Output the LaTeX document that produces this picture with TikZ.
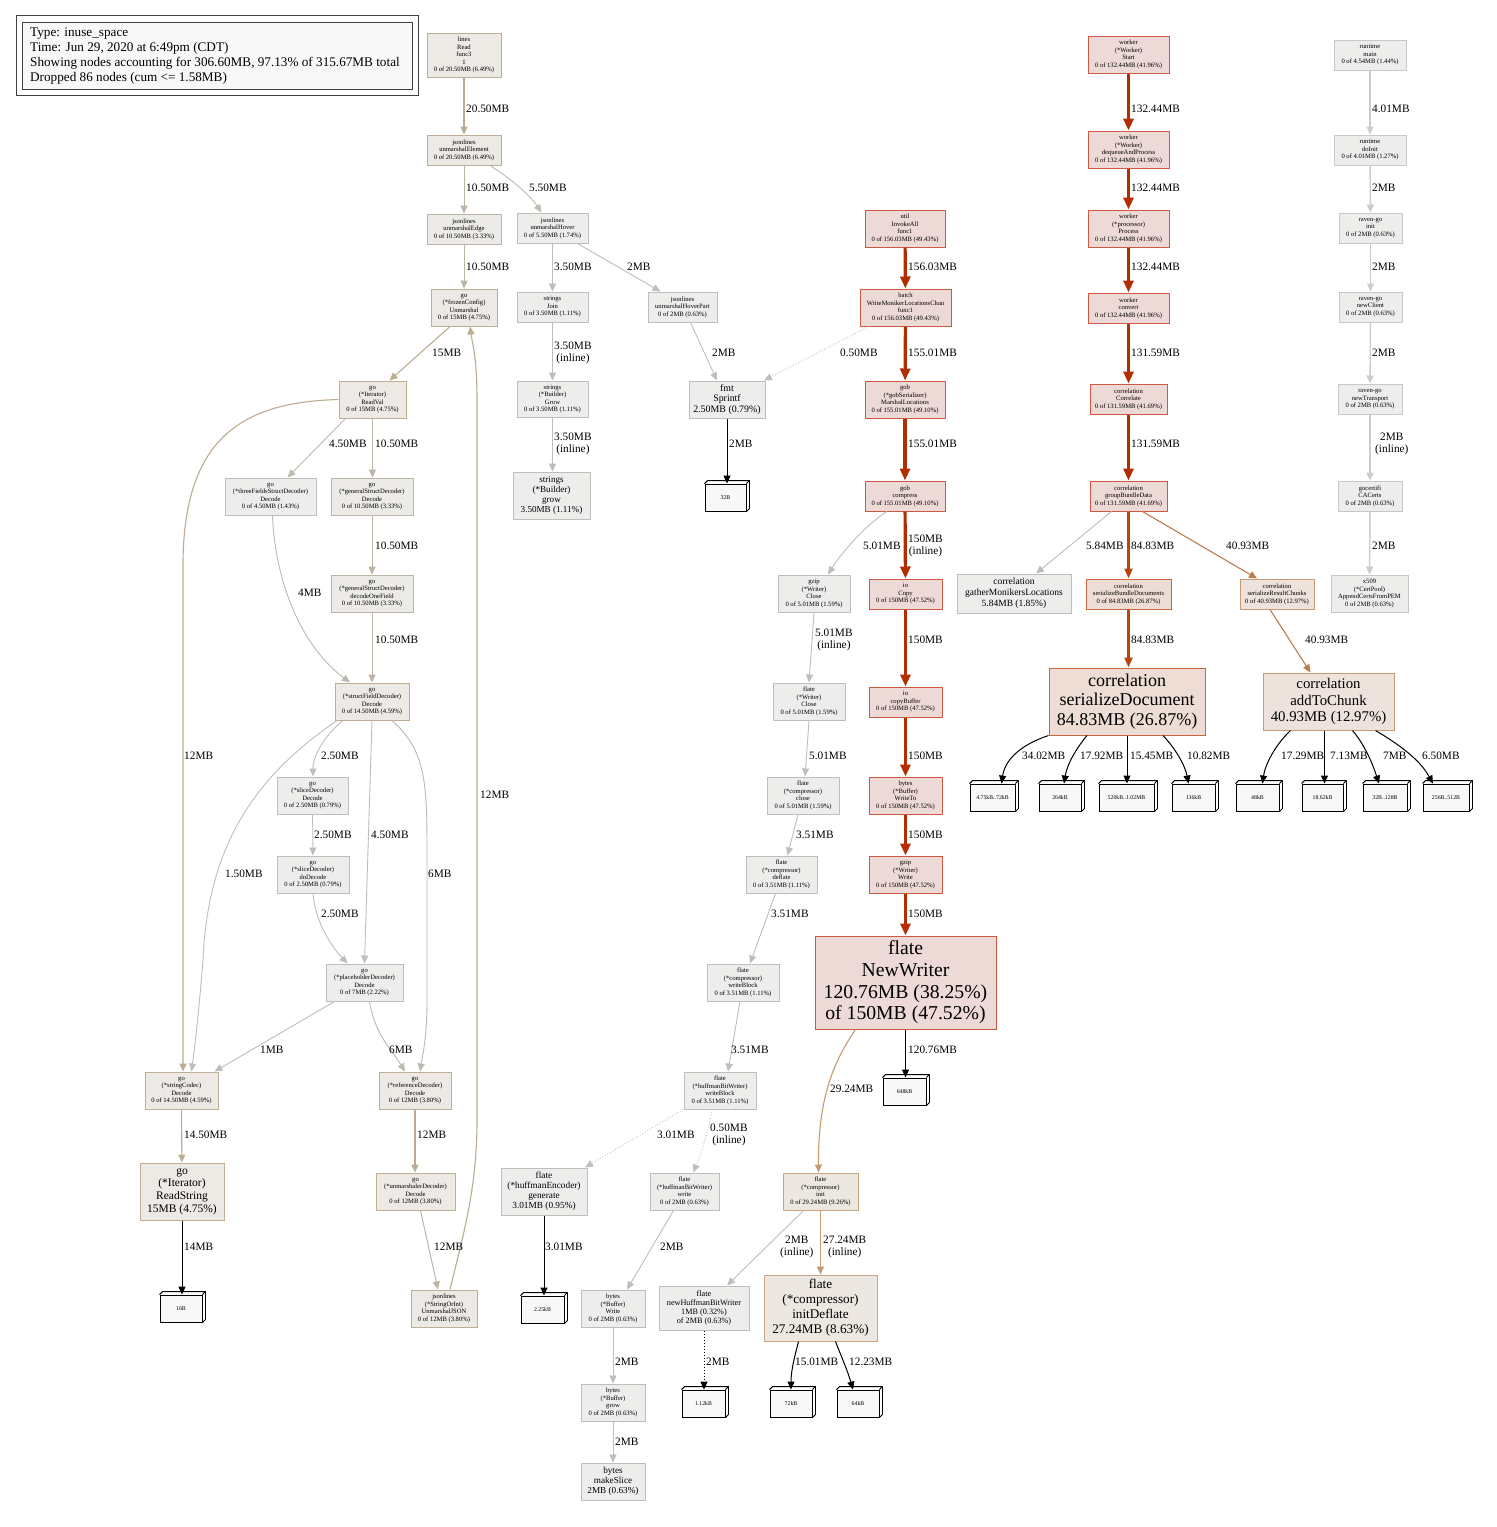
\documentclass[tikz,border=0pt]{standalone}
\usepackage{fontspec}
\setmainfont{Liberation Serif}
\usetikzlibrary{arrows.meta}
\definecolor{tanF}{HTML}{EDE9E4}
\definecolor{tanD}{HTML}{BDAE94}
\definecolor{tanFb}{HTML}{EDEBE8}
\definecolor{tanDb}{HTML}{BCB4A6}
\definecolor{grF}{HTML}{EDEDEC}
\definecolor{grD}{HTML}{BEBEBC}
\definecolor{lgD}{HTML}{C8C8C8}
\definecolor{redF}{HTML}{EDD9D5}
\definecolor{redD}{HTML}{CC5A42}
\definecolor{orF}{HTML}{EDDDD5}
\definecolor{orD}{HTML}{C8663E}
\definecolor{orFb}{HTML}{EDE3DC}
\definecolor{orDb}{HTML}{C89A72}
\definecolor{inF}{HTML}{EDE7E1}
\definecolor{inD}{HTML}{C9A682}
\definecolor{leafF}{HTML}{F8F8F8}
\definecolor{cTan}{HTML}{BBAC92}
\definecolor{cTanb}{HTML}{BDB4A4}
\definecolor{cTanc}{HTML}{BFB9AE}
\definecolor{cGrey}{HTML}{BEBEBB}
\definecolor{cLG}{HTML}{CCCCCC}
\definecolor{cRed}{HTML}{B22E00}
\definecolor{cOR}{HTML}{B8440E}
\definecolor{cOr}{HTML}{C07B4A}
\definecolor{cIn}{HTML}{C49C70}
\tikzset{
 nd/.style={draw, rectangle, align=center, inner sep=0pt, line width=1pt},
 sm/.style={font=\fontsize{6.6}{7.5}\selectfont},
 tn/.style={draw=tanD, fill=tanF},
 tnb/.style={draw=tanDb, fill=tanFb},
 gr/.style={draw=grD, fill=grF},
 lg/.style={draw=lgD, fill=grF},
 rd/.style={draw=redD, fill=redF},
 orn/.style={draw=orD, fill=orF},
 ornb/.style={draw=orDb, fill=orFb},
 inn/.style={draw=inD, fill=inF},
 leaf/.style={draw=black, fill=leafF, line width=0.9pt, rectangle, inner sep=0pt, font=\fontsize{5.8}{6.5}\selectfont, minimum height=27},
 lab/.style={font=\fontsize{11.3}{12.5}\selectfont, anchor=west, inner sep=0pt, align=center},
 tip/.style={-{Triangle[length=8pt,width=7pt]}},
 eTan/.style={tip, draw=cTan, line width=1.1pt},
 eTanb/.style={tip, draw=cTanb, line width=1pt},
 eTanc/.style={tip, draw=cTanc, line width=0.9pt},
 eGrey/.style={tip, draw=cGrey, line width=0.9pt},
 eDot/.style={tip, draw=cGrey, line width=0.9pt, dotted},
 eLG/.style={tip, draw=cLG, line width=1.4pt},
 eRed/.style={-{Triangle[length=12pt,width=10pt]}, draw=cRed, line width=3.2pt},
 eOR/.style={-{Triangle[length=10pt,width=8pt]}, draw=cOR, line width=2.2pt},
 eOr/.style={tip, draw=cOr, line width=1.1pt},
 eIn/.style={tip, draw=cIn, line width=1.1pt},
 eBlk/.style={tip, draw=black, line width=1pt},
 eBlkDot/.style={tip, draw=black, line width=1pt, dotted},
}
\newcommand{\boxback}[1]{\draw[line width=0.9pt] (#1.north west) -- ++(3,-3) -- ([shift={(3,-3)}]#1.north east) -- ([shift={(3,-3)}]#1.south east) -- (#1.south east) (#1.north east) -- ++(3,-3);}
\newcommand{\elab}[4]{\node[lab] (#1) at (#2,#3) {#4};}
\begin{document}
\begin{tikzpicture}[x=1pt,y=-1pt]
\fill[white] (0,0) rectangle (1497,1527);
\useasboundingbox (0,0) rectangle (1497,1527);
% legend
\node[draw=black!75, line width=1pt, minimum width=402, minimum height=80, inner sep=0pt] (legout) at (217,55) {};
\node[draw=black!75, fill=leafF, line width=1pt, minimum width=390, minimum height=67, inner sep=0pt] (legin) at (217,55.5) {};
\node[anchor=west, align=left, inner sep=0pt, font=\fontsize{13.2}{15}\selectfont] (legtxt) at (30,56) {Type: inuse\_space\\Time: Jun 29, 2020 at 6:49pm (CDT)\\Showing nodes accounting for 306.60MB, 97.13\% of 315.67MB total\\Dropped 86 nodes (cum <= 1.58MB)};
% ---------- left cluster
\node[nd,sm,tn,minimum width=74,minimum height=44] (lr) at (464,55) {lines\\Read\\func3\\1\\0 of 20.50MB (6.49\%)};
\node[nd,sm,tn,minimum width=74,minimum height=30] (ue) at (464,150) {jsonlines\\unmarshalElement\\0 of 20.50MB (6.49\%)};
\node[nd,sm,tnb,minimum width=74,minimum height=30] (ued) at (464,229) {jsonlines\\unmarshalEdge\\0 of 10.50MB (3.33\%)};
\node[nd,sm,tn,minimum width=66,minimum height=37] (fc) at (464,307.5) {go\\(*frozenConfig)\\Unmarshal\\0 of 15MB (4.75\%)};
\node[nd,sm,gr,minimum width=71,minimum height=30] (uh) at (552.5,228) {jsonlines\\unmarshalHover\\0 of 5.50MB (1.74\%)};
\node[nd,sm,gr,minimum width=71,minimum height=30] (sj) at (552.5,307) {strings\\Join\\0 of 3.50MB (1.11\%)};
\node[nd,sm,gr,minimum width=69,minimum height=30] (uhp) at (682.5,307) {jsonlines\\unmarshalHoverPart\\0 of 2MB (0.63\%)};
\node[nd,sm,gr,minimum width=71,minimum height=36] (sbG) at (552.5,399) {strings\\(*Builder)\\Grow\\0 of 3.50MB (1.11\%)};
\node[nd,gr,minimum width=77,minimum height=47,font=\fontsize{9.1}{10.2}\selectfont] (sbg) at (551.5,495.5) {strings\\(*Builder)\\grow\\3.50MB (1.11\%)};
\node[nd,gr,minimum width=76,minimum height=37,font=\fontsize{9.9}{10.4}\selectfont] (spf) at (727,399.5) {fmt\\Sprintf\\2.50MB (0.79\%)};
\node[leaf,minimum width=41] (l32) at (725.5,497.5) {32B}; \boxback{l32}
\node[nd,sm,tn,minimum width=67,minimum height=37] (rv) at (372.5,399.5) {go\\(*Iterator)\\ReadVal\\0 of 15MB (4.75\%)};
\node[nd,sm,gr,minimum width=91,minimum height=37] (tfs) at (270.5,496.5) {go\\(*threeFieldsStructDecoder)\\Decode\\0 of 4.50MB (1.43\%)};
\node[nd,sm,tnb,minimum width=82,minimum height=37] (gsd) at (372,496.5) {go\\(*generalStructDecoder)\\Decode\\0 of 10.50MB (3.33\%)};
\node[nd,sm,tnb,minimum width=82,minimum height=37] (gsf) at (372,593.5) {go\\(*generalStructDecoder)\\decodeOneField\\0 of 10.50MB (3.33\%)};
\node[nd,sm,tn,minimum width=74,minimum height=37] (sfd) at (372,701.5) {go\\(*structFieldDecoder)\\Decode\\0 of 14.50MB (4.59\%)};
\node[nd,sm,gr,minimum width=71,minimum height=37] (sld) at (312.5,795.5) {go\\(*sliceDecoder)\\Decode\\0 of 2.50MB (0.79\%)};
\node[nd,sm,gr,minimum width=72,minimum height=37] (sldd) at (313,874.5) {go\\(*sliceDecoder)\\doDecode\\0 of 2.50MB (0.79\%)};
\node[nd,sm,gr,minimum width=77,minimum height=37] (phd) at (364.5,982.5) {go\\(*placeholderDecoder)\\Decode\\0 of 7MB (2.22\%)};
\node[nd,sm,tn,minimum width=73,minimum height=37] (sc) at (181.5,1090.5) {go\\(*stringCodec)\\Decode\\0 of 14.50MB (4.59\%)};
\node[nd,sm,tn,minimum width=72,minimum height=37] (rfd) at (415,1090.5) {go\\(*referenceDecoder)\\Decode\\0 of 12MB (3.80\%)};
\node[nd,tn,minimum width=84,minimum height=57,font=\fontsize{11.5}{12.7}\selectfont] (rs) at (182,1191.5) {go\\(*Iterator)\\ReadString\\15MB (4.75\%)};
\node[leaf,minimum width=42] (l16) at (181,1308.5) {16B}; \boxback{l16}
\node[nd,sm,tn,minimum width=79,minimum height=37] (umd) at (415.5,1191.5) {go\\(*unmarshalerDecoder)\\Decode\\0 of 12MB (3.80\%)};
\node[nd,sm,tn,minimum width=66,minimum height=37] (soi) at (444,1308.5) {jsonlines\\(*StringOrInt)\\UnmarshalJSON\\0 of 12MB (3.80\%)};
% ---------- middle cluster
\node[nd,sm,rd,minimum width=80,minimum height=37] (inv) at (905,228.5) {util\\InvokeAll\\func1\\0 of 156.03MB (49.43\%)};
\node[nd,sm,rd,minimum width=91,minimum height=37] (bat) at (905.5,307.5) {batch\\WriteMonikerLocationsChan\\func1\\0 of 156.03MB (49.43\%)};
\node[nd,sm,rd,minimum width=80,minimum height=37] (gml) at (905,399.5) {gob\\(*gobSerializer)\\MarshalLocations\\0 of 155.01MB (49.10\%)};
\node[nd,sm,rd,minimum width=80,minimum height=30] (gc) at (905,496) {gob\\compress\\0 of 155.01MB (49.10\%)};
\node[nd,sm,gr,minimum width=72,minimum height=37] (gzc) at (814,593.5) {gzip\\(*Writer)\\Close\\0 of 5.01MB (1.59\%)};
\node[nd,sm,rd,minimum width=73,minimum height=30] (ioc) at (905.5,594) {io\\Copy\\0 of 150MB (47.52\%)};
\node[nd,sm,gr,minimum width=72,minimum height=37] (fwc) at (809,701.5) {flate\\(*Writer)\\Close\\0 of 5.01MB (1.59\%)};
\node[nd,sm,rd,minimum width=73,minimum height=30] (iocb) at (905.5,702) {io\\copyBuffer\\0 of 150MB (47.52\%)};
\node[nd,sm,gr,minimum width=72,minimum height=37] (fcc) at (803,795.5) {flate\\(*compressor)\\close\\0 of 5.01MB (1.59\%)};
\node[nd,sm,rd,minimum width=73,minimum height=37] (bwt) at (905.5,795.5) {bytes\\(*Buffer)\\WriteTo\\0 of 150MB (47.52\%)};
\node[nd,sm,gr,minimum width=71,minimum height=37] (fcd) at (781.5,874.5) {flate\\(*compressor)\\deflate\\0 of 3.51MB (1.11\%)};
\node[nd,sm,rd,minimum width=73,minimum height=37] (gzw) at (905.5,874.5) {gzip\\(*Writer)\\Write\\0 of 150MB (47.52\%)};
\node[nd,sm,gr,minimum width=72,minimum height=37] (fcwb) at (743,982.5) {flate\\(*compressor)\\writeBlock\\0 of 3.51MB (1.11\%)};
\node[nd,rd,minimum width=181,minimum height=93,font=\fontsize{19.7}{21.7}\selectfont] (nw) at (905.5,982.5) {flate\\NewWriter\\120.76MB (38.25\%)\\of 150MB (47.52\%)};
\node[nd,sm,gr,minimum width=72,minimum height=37] (hwb) at (720,1090.5) {flate\\(*huffmanBitWriter)\\writeBlock\\0 of 3.51MB (1.11\%)};
\node[leaf,minimum width=43] (l648) at (904.5,1091.5) {648kB}; \boxback{l648}
\node[nd,gr,minimum width=86,minimum height=47,font=\fontsize{9.3}{10}\selectfont] (hge) at (544,1191.5) {flate\\(*huffmanEncoder)\\generate\\3.01MB (0.95\%)};
\node[nd,sm,gr,minimum width=69,minimum height=37] (hbw) at (684.5,1191.5) {flate\\(*huffmanBitWriter)\\write\\0 of 2MB (0.63\%)};
\node[nd,sm,inn,minimum width=75,minimum height=37] (ci) at (820.5,1191.5) {flate\\(*compressor)\\init\\0 of 29.24MB (9.26\%)};
\node[leaf,minimum width=43] (l225) at (542.5,1309.5) {2.25kB}; \boxback{l225}
\node[nd,sm,gr,minimum width=64,minimum height=37] (bbw) at (613,1308.5) {bytes\\(*Buffer)\\Write\\0 of 2MB (0.63\%)};
\node[nd,gr,minimum width=90,minimum height=44,font=\fontsize{8.2}{9.2}\selectfont] (nhb) at (704,1308) {flate\\newHuffmanBitWriter\\1MB (0.32\%)\\of 2MB (0.63\%)};
\node[nd,inn,minimum width=113,minimum height=66,font=\fontsize{13.2}{15}\selectfont] (id) at (820.5,1308) {flate\\(*compressor)\\initDeflate\\27.24MB (8.63\%)};
\node[leaf,minimum width=43] (l112) at (703.5,1403.5) {1.12kB}; \boxback{l112}
\node[leaf,minimum width=42] (l72) at (791,1403.5) {72kB}; \boxback{l72}
\node[leaf,minimum width=42] (l64) at (858,1403.5) {64kB}; \boxback{l64}
\node[nd,sm,gr,minimum width=64,minimum height=37] (bbg) at (613,1402.5) {bytes\\(*Buffer)\\grow\\0 of 2MB (0.63\%)};
\node[nd,gr,minimum width=64,minimum height=37,font=\fontsize{9.2}{10}\selectfont] (bms) at (613,1481.5) {bytes\\makeSlice\\2MB (0.63\%)};
% ---------- right cluster
\node[nd,sm,rd,minimum width=81,minimum height=37] (ws) at (1128.5,54.5) {worker\\(*Worker)\\Start\\0 of 132.44MB (41.96\%)};
\node[nd,sm,rd,minimum width=81,minimum height=37] (wdp) at (1128.5,149.5) {worker\\(*Worker)\\dequeueAndProcess\\0 of 132.44MB (41.96\%)};
\node[nd,sm,rd,minimum width=81,minimum height=37] (wpp) at (1128.5,228.5) {worker\\(*processor)\\Process\\0 of 132.44MB (41.96\%)};
\node[nd,sm,rd,minimum width=81,minimum height=30] (wcv) at (1128.5,308) {worker\\convert\\0 of 132.44MB (41.96\%)};
\node[nd,sm,rd,minimum width=77,minimum height=30] (cc) at (1128.5,399) {correlation\\Correlate\\0 of 131.59MB (41.69\%)};
\node[nd,sm,rd,minimum width=77,minimum height=30] (gbd) at (1128.5,496) {correlation\\groupBundleData\\0 of 131.59MB (41.69\%)};
\node[nd,gr,minimum width=114,minimum height=39,font=\fontsize{9.5}{11}\selectfont] (gmn) at (1014,593.5) {correlation\\gatherMonikersLocations\\5.84MB (1.85\%)};
\node[nd,sm,orn,minimum width=85,minimum height=30] (sbd) at (1128.5,594) {correlation\\serializeBundleDocuments\\0 of 84.83MB (26.87\%)};
\node[nd,sm,ornb,minimum width=74,minimum height=30] (src) at (1277,594) {correlation\\serializeResultChunks\\0 of 40.93MB (12.97\%)};
\node[nd,orn,minimum width=156,minimum height=67,font=\fontsize{18}{19.3}\selectfont] (sdoc) at (1127,701.5) {correlation\\serializeDocument\\84.83MB (26.87\%)};
\node[nd,ornb,minimum width=131,minimum height=57,font=\fontsize{14.8}{16.8}\selectfont] (atc) at (1328.5,701.5) {correlation\\addToChunk\\40.93MB (12.97\%)};
\node[leaf,minimum width=45] (d1) at (992.5,797.5) {4.75kB..72kB}; \boxback{d1}
\node[leaf,minimum width=42] (d2) at (1060,797.5) {264kB}; \boxback{d2}
\node[leaf,minimum width=55] (d3) at (1126.5,797.5) {520kB..1.02MB}; \boxback{d3}
\node[leaf,minimum width=43] (d4) at (1193.5,797.5) {136kB}; \boxback{d4}
\node[leaf,minimum width=43] (a1) at (1257.5,797.5) {48kB}; \boxback{a1}
\node[leaf,minimum width=41] (a2) at (1322.5,797.5) {18.62kB}; \boxback{a2}
\node[leaf,minimum width=44] (a3) at (1385,797.5) {32B..128B}; \boxback{a3}
\node[leaf,minimum width=46] (a4) at (1446,797.5) {256B..512B}; \boxback{a4}
\node[nd,sm,lg,minimum width=72,minimum height=30] (rm) at (1370,55) {runtime\\main\\0 of 4.54MB (1.44\%)};
\node[nd,sm,lg,minimum width=72,minimum height=30] (rdi) at (1370,150) {runtime\\doInit\\0 of 4.01MB (1.27\%)};
\node[nd,sm,lg,minimum width=63,minimum height=30] (rgi) at (1370.5,228) {raven-go\\init\\0 of 2MB (0.63\%)};
\node[nd,sm,lg,minimum width=63,minimum height=30] (rgc) at (1370.5,307) {raven-go\\newClient\\0 of 2MB (0.63\%)};
\node[nd,sm,lg,minimum width=64,minimum height=30] (rgt) at (1370,399) {raven-go\\newTransport\\0 of 2MB (0.63\%)};
\node[nd,sm,lg,minimum width=64,minimum height=30] (gcc) at (1370,496) {gocertifi\\CACerts\\0 of 2MB (0.63\%)};
\node[nd,sm,lg,minimum width=77,minimum height=37] (x5) at (1369.5,593.5) {x509\\(*CertPool)\\AppendCertsFromPEM\\0 of 2MB (0.63\%)};
% ---------- edges left
\draw[eTan] (lr) -- (ue);
\draw[eTanb] (ue) -- (ued);
\draw[eTanc] ([xshift=26]ue.south) .. controls (510,178) and (530,195) .. ([xshift=-11]uh.north);
\draw[eTanb] (ued) -- (fc);
\draw[eGrey] (uh) -- (sj);
\draw[eGrey] ([xshift=25]uh.south) -- ([xshift=-22]uhp.north);
\draw[eGrey] (sj) -- (sbG);
\draw[eGrey] (sbG) -- (sbG.south |- sbg.north);
\draw[eGrey] ([xshift=8]uhp.south) -- ([xshift=-10]spf.north);
\draw[eDot] ([xshift=-37]bat.south) -- ([xshift=37]spf.north);
\draw[eBlk] (spf.south) -- (spf.south |- l32.north);
\draw[eTan] ([xshift=-14]fc.south) -- ([xshift=17]rv.north);
\draw[eTan] ([xshift=6]soi.north) .. controls (463,1235) and (477,1190) .. (477,1120) -- (477,400) .. controls (477,355) and (472,342) .. ([xshift=6]fc.south);
\draw[eTan] (rv.west) .. controls (240,402) and (185,440) .. (183,560) -- ([xshift=1.5]sc.north);
\draw[eTanc] ([xshift=-27]rv.south) -- ([xshift=17]tfs.north);
\draw[eTanb] (rv.south) -- (rv.south |- gsd.north);
\draw[eTanc] ([xshift=2]tfs.south) .. controls (275,580) and (300,645) .. ([xshift=-22]sfd.north);
\draw[eTanb] (gsd) -- (gsf);
\draw[eTanb] (gsf) -- (sfd);
\draw[eGrey] ([xshift=-29]sfd.south) .. controls (325,735) and (313,755) .. ([xshift=0.5]sld.north);
\draw[eGrey] (sfd.south) -- (phd.north);
\draw[eGrey] ([xshift=-35]sfd.south) .. controls (265,770) and (208,835) .. (203,960) .. controls (199,1010) and (195,1045) .. ([xshift=10]sc.north);
\draw[eTanc] ([xshift=20]sfd.south) .. controls (425,750) and (427,780) .. (427,850) -- (427,1000) .. controls (427,1040) and (422,1058) .. ([xshift=5]rfd.north);
\draw[eGrey] (sld) -- (sldd);
\draw[eGrey] (sldd.south) .. controls (315,920) and (330,945) .. ([xshift=-17]phd.north);
\draw[eGrey] ([xshift=-30]phd.south) -- ([xshift=33]sc.north);
\draw[eTanc] ([xshift=5]phd.south) .. controls (375,1035) and (392,1050) .. ([xshift=-10]rfd.north);
\draw[eTan] (sc) -- (rs);
\draw[eBlk] (rs.south) -- (rs.south |- l16.north);
\draw[eTan, line width=1.6pt] (rfd) -- (rfd.south |- umd.north);
\draw[eTanb] ([xshift=5]umd.south) -- ([xshift=-6]soi.north);
% ---------- edges middle
\draw[eRed] (inv) -- (bat);
\draw[eRed] (bat) -- (gml);
\draw[eRed] (gml) -- (gc);
\draw[eRed] (gc) -- (ioc);
\draw[eRed] (ioc) -- (iocb);
\draw[eRed] (iocb) -- (bwt);
\draw[eRed] (bwt) -- (gzw);
\draw[eRed] (gzw) -- (nw);
\draw[eGrey] ([xshift=-18]gc.south) .. controls (865,525) and (840,555) .. ([xshift=14]gzc.north);
\draw[eGrey] (gzc.south) -- (fwc.north);
\draw[eGrey] (fwc.south) -- ([xshift=2]fcc.north);
\draw[eGrey] ([xshift=-5]fcc.south) -- ([xshift=6]fcd.north);
\draw[eGrey] ([xshift=-6]fcd.south) -- ([xshift=7]fcwb.north);
\draw[eGrey] ([xshift=-3]fcwb.south) -- ([xshift=8]hwb.north);
\draw[eDot] ([xshift=-37]hwb.south) -- ([xshift=41]hge.north);
\draw[eDot] ([xshift=-8]hwb.south) .. controls (708,1135) and (700,1155) .. ([xshift=9]hbw.north);
\draw[eGrey] ([xshift=-11]hbw.south) -- ([xshift=14]bbw.north);
\draw[eGrey] (bbw) -- (bbg);
\draw[eGrey] (bbg) -- (bms);
\draw[eBlk] (hge.south) -- (hge.south |- l225.north);
\draw[eBlk] (nw.south) -- (nw.south |- l648.north);
\draw[eIn] ([xshift=-50]nw.south) .. controls (835,1060) and (818,1095) .. ([xshift=-2]ci.north);
\draw[eGrey] ([xshift=-17]ci.south) -- ([xshift=23]nhb.north);
\draw[eIn, line width=1.6pt] (ci) -- (ci.south |- id.north);
\draw[eBlkDot] (nhb.south) -- (nhb.south |- l112.north);
\draw[eBlk] ([xshift=-22]id.south) .. controls (795,1355) and (791,1370) .. (l72.north);
\draw[eBlk] ([xshift=15]id.south) .. controls (842,1358) and (848,1372) .. ([xshift=-5]l64.north);
% ---------- edges right
\draw[eRed] (ws) -- (wdp);
\draw[eRed] (wdp) -- (wpp);
\draw[eRed] (wpp) -- (wcv);
\draw[eRed] (wcv) -- (cc);
\draw[eRed] (cc) -- (gbd);
\draw[eGrey] ([xshift=-17]gbd.south) -- ([xshift=22]gmn.north);
\draw[eOR] (gbd) -- (sbd);
\draw[eOr] ([xshift=14]gbd.south) -- ([xshift=-20]src.north);
\draw[eOR] (sbd.south) -- (sbd.south |- sdoc.north);
\draw[eOr] ([xshift=-7]src.south) -- ([xshift=-18]atc.north);
\draw[eBlk] (sdoc.south west) .. controls (1020,745) and (1005,760) .. ([xshift=9]d1.north);
\draw[eBlk] ([xshift=-40]sdoc.south) .. controls (1075,750) and (1067,765) .. ([xshift=4]d2.north);
\draw[eBlk] (sdoc.south) -- (sdoc.south |- d3.north);
\draw[eBlk] ([xshift=36]sdoc.south) .. controls (1175,748) and (1185,765) .. ([xshift=-5]d4.north);
\draw[eBlk] ([xshift=-38]atc.south) .. controls (1275,745) and (1265,765) .. ([xshift=5]a1.north);
\draw[eBlk] ([xshift=-4]atc.south) -- ([xshift=-4]atc.south |- a2.north);
\draw[eBlk] ([xshift=24]atc.south) .. controls (1365,745) and (1373,765) .. ([xshift=-6]a3.north);
\draw[eBlk] ([xshift=47]atc.south) .. controls (1400,745) and (1420,760) .. ([xshift=-13]a4.north);
\draw[eLG] (rm) -- (rdi);
\draw[eLG] (rdi) -- (rgi);
\draw[eLG] (rgi) -- (rgc);
\draw[eLG] (rgc) -- (rgt);
\draw[eLG] (rgt) -- (gcc);
\draw[eLG] (gcc) -- (x5);
% ---------- edge labels
\elab{t1}{466}{109}{20.50MB}
\elab{t2}{466}{188}{10.50MB}
\elab{t3}{529}{188}{5.50MB}
\elab{t4}{466}{267}{10.50MB}
\elab{t5}{554}{267}{3.50MB}
\elab{t6}{627}{267}{2MB}
\elab{t7}{554}{353}{3.50MB\\(inline)}
\elab{t8}{554}{444}{3.50MB\\(inline)}
\elab{t9}{712}{353}{2MB}
\elab{t10}{840}{353}{0.50MB}
\elab{t11}{432}{353}{15MB}
\elab{t12}{329}{444}{4.50MB}
\elab{t13}{375}{444}{10.50MB}
\elab{t14}{729}{444}{2MB}
\elab{t15}{375}{546}{10.50MB}
\elab{t16}{298}{593}{4MB}
\elab{t17}{375}{640}{10.50MB}
\elab{t18}{184}{756}{12MB}
\elab{t19}{321}{756}{2.50MB}
\elab{t20}{480}{795}{12MB}
\elab{t21}{314}{835}{2.50MB}
\elab{t22}{371}{835}{4.50MB}
\elab{t23}{225}{874}{1.50MB}
\elab{t24}{428}{874}{6MB}
\elab{t25}{321}{914}{2.50MB}
\elab{t26}{260}{1050}{1MB}
\elab{t27}{389}{1050}{6MB}
\elab{t28}{184}{1135}{14.50MB}
\elab{t29}{417}{1135}{12MB}
\elab{t30}{184}{1247}{14MB}
\elab{t31}{434}{1247}{12MB}
\elab{m1}{908}{267}{156.03MB}
\elab{m2}{908}{353}{155.01MB}
\elab{m3}{908}{444}{155.01MB}
\elab{m4}{863}{546}{5.01MB}
\elab{m5}{908}{546}{150MB\\(inline)}
\elab{m6}{815}{640}{5.01MB\\(inline)}
\elab{m7}{908}{640}{150MB}
\elab{m8}{809}{756}{5.01MB}
\elab{m9}{908}{756}{150MB}
\elab{m10}{796}{835}{3.51MB}
\elab{m11}{908}{835}{150MB}
\elab{m12}{771}{914}{3.51MB}
\elab{m13}{908}{914}{150MB}
\elab{m14}{731}{1050}{3.51MB}
\elab{m15}{908}{1050}{120.76MB}
\elab{m16}{830}{1089}{29.24MB}
\elab{m17}{657}{1135}{3.01MB}
\elab{m18}{710}{1135}{0.50MB\\(inline)}
\elab{m19}{545}{1247}{3.01MB}
\elab{m20}{660}{1247}{2MB}
\elab{m21}{780}{1247}{2MB\\(inline)}
\elab{m22}{823}{1247}{27.24MB\\(inline)}
\elab{m23}{615}{1362}{2MB}
\elab{m24}{706}{1362}{2MB}
\elab{m25}{795}{1362}{15.01MB}
\elab{m26}{849}{1362}{12.23MB}
\elab{m27}{615}{1442}{2MB}
\elab{r1}{1131}{109}{132.44MB}
\elab{r2}{1131}{188}{132.44MB}
\elab{r3}{1131}{267}{132.44MB}
\elab{r4}{1131}{353}{131.59MB}
\elab{r5}{1131}{444}{131.59MB}
\elab{r6}{1086}{546}{5.84MB}
\elab{r7}{1131}{546}{84.83MB}
\elab{r8}{1226}{546}{40.93MB}
\elab{r9}{1131}{640}{84.83MB}
\elab{r10}{1305}{640}{40.93MB}
\elab{r11}{1022}{756}{34.02MB}
\elab{r12}{1080}{756}{17.92MB}
\elab{r13}{1130}{756}{15.45MB}
\elab{r14}{1187}{756}{10.82MB}
\elab{r15}{1281}{756}{17.29MB}
\elab{r16}{1330}{756}{7.13MB}
\elab{r17}{1383}{756}{7MB}
\elab{r18}{1422}{756}{6.50MB}
\elab{q1}{1372}{109}{4.01MB}
\elab{q2}{1372}{188}{2MB}
\elab{q3}{1372}{267}{2MB}
\elab{q4}{1372}{353}{2MB}
\elab{q5}{1375}{444}{2MB\\(inline)}
\elab{q6}{1372}{546}{2MB}
\end{tikzpicture}
\end{document}
